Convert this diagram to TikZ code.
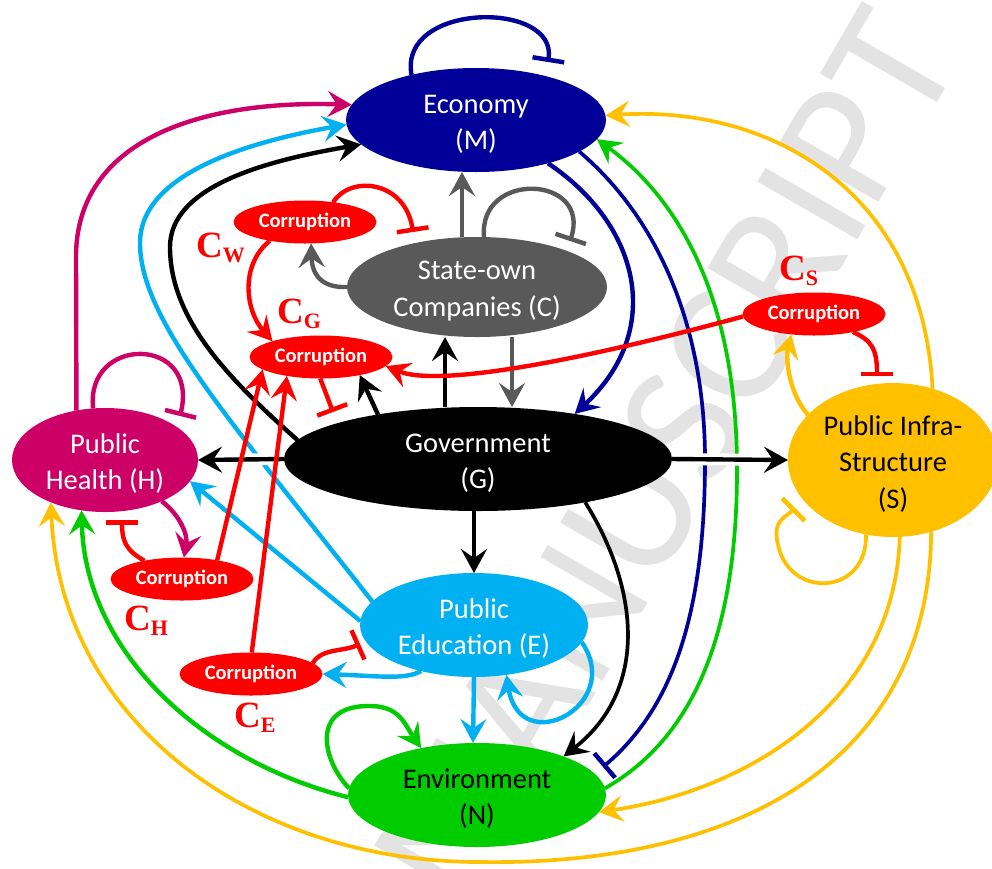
\documentclass[tikz,border=0pt]{standalone}
\usepackage{fontspec}
\setmainfont{Carlito}
\newfontfamily\serifb{Liberation Serif}
\usetikzlibrary{shapes.geometric,arrows.meta,calc}
\definecolor{cblue}{RGB}{0,0,153}
\definecolor{cgray}{RGB}{89,89,89}
\definecolor{cmag}{RGB}{204,0,102}
\definecolor{corange}{RGB}{255,192,0}
\definecolor{ccyan}{RGB}{0,176,240}
\definecolor{cgreen}{RGB}{0,204,0}
\definecolor{cred}{RGB}{255,0,0}
\definecolor{wmgray}{RGB}{227,227,227}
\newcommand\csubx[1]{{\fontsize{22}{22}\selectfont\raisebox{-5pt}{#1}}}
\newcommand\tophx{\rule{0pt}{27pt}}
\pgfdeclarelayer{bgx}
\pgfdeclarelayer{wm}
\pgfdeclarelayer{edges}
\pgfsetlayers{bgx,wm,edges,main}
\begin{document}
\begin{tikzpicture}[x=1pt,y=-1pt,
  big/.style={ellipse, inner sep=0pt, outer sep=0pt, align=center, font=\fontsize{28.5}{36.5}\selectfont},
  corr/.style={ellipse, fill=cred, inner sep=0pt, outer sep=0pt, minimum width=143pt, minimum height=43pt, text=white, font=\bfseries\fontsize{20.5}{24}\selectfont},
  lab/.style={text=cred, inner sep=0pt, anchor=base west, font=\serifb\bfseries\fontsize{37}{37}\selectfont},
  arr/.style={line width=4.4pt, -{Stealth[length=24pt,width=26pt,inset=9pt]}},
  thinarr/.style={line width=3.7pt, -{Stealth[length=24pt,width=26pt,inset=9pt]}},
  inh/.style={line width=4.4pt, -{Bar[width=32pt,line width=4.5pt]}},
  thininh/.style={line width=3.7pt, -{Bar[width=32pt,line width=4.5pt]}},
  gap/.style={preaction={draw=white, line width=12pt, -}}]
\begin{pgfonlayer}{bgx}
\fill[white] (0,0) rectangle (992,868);
\end{pgfonlayer}
\useasboundingbox (0,0) rectangle (992,868);

% nodes
\node[big, fill=cblue, text=white, minimum width=260pt, minimum height=104pt] (M) at (476,120) {\tophx Economy\\(M)};
\node[big, fill=cgray, text=white, minimum width=260pt, minimum height=100pt] (C) at (477,287) {\tophx State-own\\Companies (C)};
\node[big, fill=black, text=white, minimum width=388pt, minimum height=104pt] (G) at (478,459) {\tophx Government\\(G)};
\node[big, fill=cmag, text=white, minimum width=186pt, minimum height=104pt] (H) at (105,460) {\tophx Public\\Health (H)};
\node[big, fill=corange, text=black, minimum width=210pt, minimum height=154pt] (S) at (893,460) {\tophx Public Infra-\\Structure\\(S)};
\node[big, fill=ccyan, text=white, minimum width=228pt, minimum height=104pt] (E) at (474,625) {\tophx Public\\Education (E)};
\node[big, fill=cgreen, text=black, minimum width=258pt, minimum height=104pt] (N) at (477,795) {\tophx Environment\\(N)};

\node[corr] (CW) at (305,222) {Corruption};
\node[corr] (CG) at (321,357) {Corruption};
\node[corr] (CS) at (814,314) {Corruption};
\node[corr] (CH) at (182,579) {Corruption};
\node[corr] (CE) at (251,674) {Corruption};

\node[lab] (lW) at (196,257) {C\csubx{W}};
\node[lab] (lG) at (277,323) {C\csubx{G}};
\node[lab] (lS) at (779,280) {C\csubx{S}};
\node[lab] (lH) at (124,630) {C\csubx{H}};
\node[lab] (lE) at (234,727) {C\csubx{E}};

% free ends of inhibition bars
\coordinate (mbar) at (548,62);
\coordinate (cbar) at (570,241);
\coordinate (cwbar) at (413,232);
\coordinate (cgbar) at (333,412);
\coordinate (csbar) at (877,376);
\coordinate (sbar) at (795,508);
\coordinate (mnbar) at (603,767);
\coordinate (cebar) at (360,644);
\coordinate (chbar) at (122,520);
\coordinate (hbar) at (180,416);

\begin{pgfonlayer}{wm}
\node[rotate=60, text=wmgray, inner sep=0pt, font=\fontsize{180}{180}\selectfont] (wmk) at (665,458) {MANUSCRIPT};
\end{pgfonlayer}

\begin{pgfonlayer}{edges}
% economy
\draw[inh, cblue] (M.145) .. controls (398,2) and (558,0) .. (mbar);
\draw[arr, cmag] (H.120) -- (76,257) .. controls (76,140) and (200,100) .. (M.173);
\draw[arr, ccyan] (E.167) .. controls (230,420) and (140,320) .. (140,243) .. controls (140,170) and (260,140) .. (M.182);
\draw[arr] (G.174) .. controls (230,380) and (170,320) .. (170,247) .. controls (170,185) and (270,160) .. (M.192);
\draw[thinarr, corange] (S.61) .. controls (922,190) and (770,105) .. (M.2);
\draw[thinarr, cgreen] (N.3) .. controls (690,740) and (737,640) .. (737,470) .. controls (737,300) and (680,200) .. (M.351);
\draw[arr, cblue] (M.329) .. controls (640,225) and (665,330) .. (G.25);
\draw[thininh, cblue] (M.343) .. controls (660,220) and (705,330) .. (705,460) .. controls (705,620) and (670,710) .. (mnbar);
% companies
\draw[arr] ([xshift=-33pt]G.north) -- ([xshift=-32pt]C.south);
\draw[arr, cgray] ([xshift=35pt]C.south) -- ([xshift=34pt]G.north);
\draw[arr, cgray] ([xshift=-15pt]C.north) -- ([xshift=-14pt]M.south);
\draw[inh, cgray] (C.82) .. controls (478,170) and (592,175) .. (cbar);
\draw[arr, cgray] (C.west) .. controls (322,288) and (312,275) .. (CW.286);
% health
\draw[arr, ccyan] (E.178) -- (H.346);
\draw[arr, cmag] (H.324) .. controls (180,515) and (188,535) .. (CH.85);
\draw[inh, cmag] (H.103) .. controls (85,335) and (200,335) .. (hbar);
% infrastructure
\draw[arr, corange] (S.152) .. controls (790,395) and (785,360) .. (CS.222);
\draw[thininh, corange] (S.250) .. controls (868,595) and (790,600) .. (778,545) .. controls (772,520) and (785,518) .. (sbar);
\draw[thinarr, corange] (S.298) .. controls (930,760) and (740,866) .. (480,862) .. controls (250,862) and (60,720) .. (H.218);
\draw[thinarr, corange] (S.275) .. controls (895,700) and (750,790) .. (N.352);
% government
\draw[thinarr] (G.338) .. controls (640,590) and (648,690) .. (N.24);
\draw[arr] ([xshift=-4pt]G.south) -- (E.north);
\draw[arr] (G.156) -- (CG.335);
% education / environment
\draw[arr, ccyan] (E.south) -- ([xshift=-4pt]N.north);
\draw[arr, ccyan] (E.351) .. controls (625,705) and (520,760) .. (E.303);
\draw[arr, ccyan] (E.221) .. controls (405,680) and (380,676) .. (CE.east);
\draw[arr, cgreen] (N.177) .. controls (322,760) and (310,705) .. (370,706) .. controls (400,706) and (405,725) .. (N.140);
\draw[arr, cgreen] (N.181) .. controls (200,760) and (85,650) .. (H.245);
% crossing arrows with white border
\draw[arr, gap] (G.west) -- (H.east);
\draw[arr, gap] (G.east) -- (S.west);
% corruption
\draw[inh, cred] (CW.35) .. controls (350,175) and (405,180) .. (cwbar);
\draw[arr, cred] (CW.208) .. controls (240,265) and (245,310) .. (CG.162);
\draw[inh, cred] (CG.268) -- (cgbar);
\draw[arr, cred] (CS.182) .. controls (620,350) and (445,390) .. (CG.352);
\draw[inh, cred] (CS.335) .. controls (872,340) and (877,350) .. (csbar);
\draw[inh, cred] (CE.10) .. controls (322,648) and (342,652) .. (cebar);
\draw[arr, cred] (CE.88) -- (CG.209);
\draw[arr, cred] (CH.28) -- (CG.192);
\draw[inh, cred] (CH.154) .. controls (125,550) and (122,540) .. (chbar);
\end{pgfonlayer}
\end{tikzpicture}
\end{document}
